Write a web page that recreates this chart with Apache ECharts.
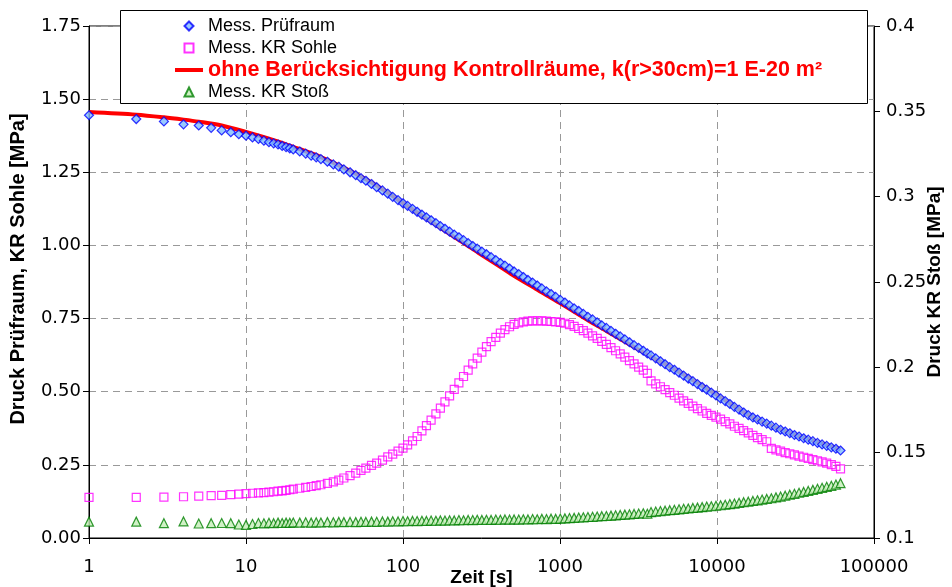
<!DOCTYPE html>
<html>
<head>
<meta charset="utf-8">
<script src="https://cdn.jsdelivr.net/npm/echarts@6/dist/echarts.min.js"></script>
<style>
  html, body { margin: 0; padding: 0; background: #fff; }
  #chart { width: 952px; height: 587px; }
</style>
</head>
<body>
<div id="chart"></div>
<script>
// Measurement times [s], shared by the three pressure gauges
const zeitSek = [
  1,2,3,4,5,6,7,8,9,10,11,12,13,14,15,16,17,18,19,20,
  22,24,26,28,30,33,36,39,42,46,50,54,58,63,68,74,80,86,93,100,
  107,115,123,132,141,151,162,173,185,198,212,227,243,260,278,297,318,340,364,390,
  417,446,477,510,546,584,625,669,716,766,820,877,938,1004,1074,1149,1230,1316,1408,1506,
  1612,1725,1845,1974,2112,2260,2418,2588,2769,2963,3170,3392,3600,
  3800,4070,4360,4670,5000,5350,5730,6130,6560,7020,7510,8040,8600,9200,9850,
  10540,11280,12070,12910,13820,14780,15820,16930,18110,19380,20740,22190,23740,25400,27180,
  29080,31120,33300,35630,38120,40790,43650,46700,49970,53470,57210,61200
];

// Druck Prüfraum [MPa] (left axis)
const druckPruefraum = [
  1.445,1.432,1.424,1.414,1.410,1.402,1.393,1.387,1.380,1.375,1.369,1.364,1.358,1.353,1.349,1.345,1.340,1.336,1.332,1.328,
  1.321,1.314,1.307,1.301,1.295,1.286,1.277,1.269,1.260,1.250,1.240,1.230,1.221,1.210,1.199,1.188,1.177,1.166,1.155,1.144,
  1.135,1.125,1.115,1.105,1.096,1.086,1.076,1.066,1.057,1.047,1.037,1.028,1.018,1.008,0.998,0.989,0.979,0.970,0.960,0.950,
  0.940,0.931,0.921,0.911,0.902,0.892,0.882,0.873,0.863,0.853,0.843,0.834,0.824,0.814,0.805,0.795,0.785,0.776,0.766,0.756,
  0.747,0.737,0.727,0.718,0.708,0.698,0.689,0.679,0.669,0.659,0.650,0.640,0.631,
  0.624,0.614,0.604,0.594,0.584,0.575,0.565,0.555,0.545,0.536,0.526,0.516,0.507,0.497,0.487,
  0.477,0.468,0.458,0.448,0.439,0.429,0.420,0.412,0.405,0.398,0.391,0.384,0.377,0.370,0.364,
  0.358,0.352,0.347,0.341,0.336,0.331,0.325,0.320,0.315,0.310,0.305,0.299
];

// Druck Kontrollraum Sohle [MPa] (left axis)
const druckSohle = [
  0.139,0.139,0.140,0.141,0.143,0.145,0.146,0.148,0.150,0.152,0.153,0.154,0.155,0.157,0.158,0.160,0.161,0.163,0.165,0.167,
  0.170,0.173,0.176,0.179,0.182,0.187,0.192,0.198,0.205,0.213,0.222,0.231,0.239,0.248,0.256,0.266,0.277,0.287,0.297,0.307,
  0.318,0.332,0.347,0.366,0.384,0.403,0.424,0.444,0.465,0.486,0.508,0.530,0.552,0.574,0.595,0.615,0.635,0.654,0.671,0.686,
  0.700,0.712,0.722,0.730,0.735,0.739,0.741,0.742,0.742,0.742,0.741,0.740,0.739,0.737,0.734,0.729,0.723,0.716,0.709,0.700,
  0.691,0.682,0.672,0.662,0.651,0.640,0.629,0.618,0.606,0.595,0.584,0.574,0.563,
  0.537,0.527,0.517,0.507,0.497,0.488,0.478,0.469,0.460,0.451,0.442,0.434,0.426,0.419,0.413,
  0.406,0.398,0.390,0.382,0.375,0.367,0.359,0.351,0.343,0.336,0.329,0.306,0.301,0.297,0.292,
  0.288,0.284,0.280,0.276,0.272,0.268,0.264,0.260,0.256,0.251,0.245,0.236
];

// Druck Kontrollraum Stoß [MPa] (right axis)
const druckStoss = [
  0.1096,0.1096,0.1087,0.1097,0.1085,0.1087,0.1088,0.1087,0.1079,0.1077,0.1082,0.1088,0.1086,0.1089,0.1087,0.1090,0.1088,0.1090,0.1089,0.1091,
  0.1090,0.1092,0.1090,0.1092,0.1091,0.1093,0.1092,0.1094,0.1093,0.1094,0.1093,0.1095,0.1094,0.1096,0.1095,0.1097,0.1096,0.1098,0.1097,0.1099,
  0.1098,0.1100,0.1099,0.1101,0.1100,0.1102,0.1101,0.1103,0.1102,0.1104,0.1103,0.1105,0.1104,0.1106,0.1105,0.1107,0.1106,0.1107,0.1106,0.1108,
  0.1107,0.1109,0.1108,0.1109,0.1108,0.1110,0.1109,0.1111,0.1110,0.1112,0.1111,0.1113,0.1112,0.1114,0.1115,0.1117,0.1118,0.1120,0.1121,0.1123,
  0.1124,0.1126,0.1128,0.1129,0.1131,0.1133,0.1135,0.1137,0.1139,0.1141,0.1143,0.1145,0.1142,
  0.1152,0.1155,0.1158,0.1160,0.1163,0.1165,0.1168,0.1171,0.1173,0.1176,0.1178,0.1181,0.1184,0.1186,0.1189,
  0.1192,0.1195,0.1199,0.1202,0.1206,0.1210,0.1213,0.1217,0.1221,0.1225,0.1229,0.1233,0.1238,0.1243,0.1248,
  0.1254,0.1259,0.1265,0.1270,0.1276,0.1282,0.1288,0.1294,0.1300,0.1306,0.1313,0.1321
];

// Model run without control rooms, k(r>30cm) = 1E-20 m²
const modellZeit = [1,2,3,4,5,7,10,15,20,30,50,70,100,150,200,300,400,500,700,1000,1500,2000,3000,4000,5000,7000,10000,15000,20000,30000,45000,61200];
const modellDruck = [1.456,1.447,1.438,1.430,1.423,1.410,1.388,1.360,1.337,1.302,1.245,1.200,1.145,1.082,1.038,0.976,0.933,0.899,0.852,0.803,0.745,0.706,0.651,0.613,0.586,0.540,0.489,0.428,0.394,0.357,0.326,0.303];

const namePruefraum = 'Mess. Prüfraum';
const nameSohle = 'Mess. KR Sohle';
const nameModell = 'ohne Berücksichtigung Kontrollräume, k(r>30cm)=1 E-20 m²';
const nameStoss = 'Mess. KR Stoß';

const FONT = "'Liberation Sans', Arial, sans-serif";
const TICKFONT = "'DejaVu Sans', sans-serif";

const pairs = (xs, ys) => xs.map((x, i) => [x, ys[i]]);

const axisLine = { show: true, onZero: false, lineStyle: { color: '#000', width: 1 } };
const axisTick = { show: true, inside: false, length: 6, lineStyle: { color: '#000', width: 1 } };
const tickLabel = { fontFamily: TICKFONT, fontSize: 18, color: '#000', showMinLabel: true, showMaxLabel: true };
const titleStyle = { fontFamily: FONT, fontWeight: 'bold', fontSize: 19, color: '#000' };
const gridLine = { show: true, lineStyle: { color: '#999', type: [7, 5], width: 1 } };

const chart = echarts.init(document.getElementById('chart'), null, { renderer: 'canvas' });

chart.setOption({
  animation: false,
  backgroundColor: '#fff',
  grid: {
    left: 89, right: 78, top: 26, bottom: 49,
    containLabel: false, outerBoundsMode: 'none',
    show: true, borderColor: '#000', borderWidth: 1, backgroundColor: 'transparent'
  },
  xAxis: {
    type: 'log', logBase: 10, min: 1, max: 100000,
    name: 'Zeit [s]', nameLocation: 'middle', nameGap: 30, nameMoveOverlap: false,
    nameTextStyle: titleStyle,
    axisLine: axisLine,
    axisTick: axisTick,
    minorTick: { show: false },
    axisLabel: Object.assign({}, tickLabel, { margin: 20, formatter: v => String(Math.round(v)) }),
    splitLine: gridLine,
    minorSplitLine: { show: false }
  },
  yAxis: [
    {
      type: 'value', position: 'left', min: 0, max: 1.75, interval: 0.25,
      name: 'Druck Prüfraum, KR Sohle [MPa]', nameLocation: 'middle', nameRotate: 90, nameGap: 61,
      nameMoveOverlap: false,
      nameTextStyle: Object.assign({}, titleStyle, { fontSize: 20, padding: [0, 0, 0, 26] }),
      axisLine: axisLine,
      axisTick: axisTick,
      axisLabel: Object.assign({}, tickLabel, { margin: 8, formatter: v => v.toFixed(2) }),
      splitLine: gridLine
    },
    {
      type: 'value', position: 'right', min: 0.1, max: 0.4, interval: 0.05,
      name: 'Druck KR Stoß [MPa]', nameLocation: 'middle', nameRotate: 90, nameGap: 51,
      nameMoveOverlap: false,
      nameTextStyle: titleStyle,
      axisLine: axisLine,
      axisTick: axisTick,
      axisLabel: Object.assign({}, tickLabel, { margin: 12 }),
      splitLine: { show: false }
    }
  ],
  legend: {
    orient: 'vertical', left: 175, top: 15, padding: 0, itemGap: 0,
    itemWidth: 28, itemHeight: 9, symbolKeepAspect: true, selectedMode: false,
    textStyle: { fontFamily: FONT, fontSize: 18, color: '#000', lineHeight: 22 },
    data: [
      { name: namePruefraum, icon: 'path://M5,0L10,5L5,10L0,5Z' },
      { name: nameSohle, icon: 'path://M0,0H10V10H0Z' },
      { name: nameModell, icon: 'path://M0,0H28V4H0Z',
        itemStyle: { color: '#FF0000', borderWidth: 0 },
        textStyle: { fontFamily: FONT, fontSize: 21.5, fontWeight: 'bold', color: '#FF0000', lineHeight: 22 } },
      { name: nameStoss, icon: 'path://M5,0L10,10L0,10Z' }
    ]
  },
  graphic: {
    elements: [
      {
        type: 'rect', z: 3,
        shape: { x: 120.5, y: 10.5, width: 747, height: 93 },
        style: { fill: '#fff', stroke: '#000', lineWidth: 1 }
      }
    ]
  },
  series: [
    {
      name: nameModell, type: 'line', z: 1,
      data: pairs(modellZeit, modellDruck),
      symbol: 'none', showSymbol: false, smooth: 0.3,
      color: '#FF0000',
      itemStyle: { color: '#FF0000' },
      lineStyle: { color: '#FF0000', width: 4 }
    },
    {
      name: namePruefraum, type: 'scatter', yAxisIndex: 0,
      data: pairs(zeitSek, druckPruefraum),
      symbol: 'diamond', symbolSize: 9,
      itemStyle: { color: '#80BCFF', borderColor: '#0000FF', borderWidth: 1.2 }
    },
    {
      name: nameSohle, type: 'scatter', yAxisIndex: 0,
      data: pairs(zeitSek, druckSohle),
      symbol: 'rect', symbolSize: 8,
      itemStyle: { color: 'rgba(255,255,255,0)', borderColor: '#FF00FF', borderWidth: 1.2 }
    },
    {
      name: nameStoss, type: 'scatter', yAxisIndex: 1,
      data: pairs(zeitSek, druckStoss),
      symbol: 'triangle', symbolSize: 9,
      itemStyle: { color: '#C4EEB8', borderColor: '#008000', borderWidth: 1.2 }
    }
  ]
});
</script>
</body>
</html>
